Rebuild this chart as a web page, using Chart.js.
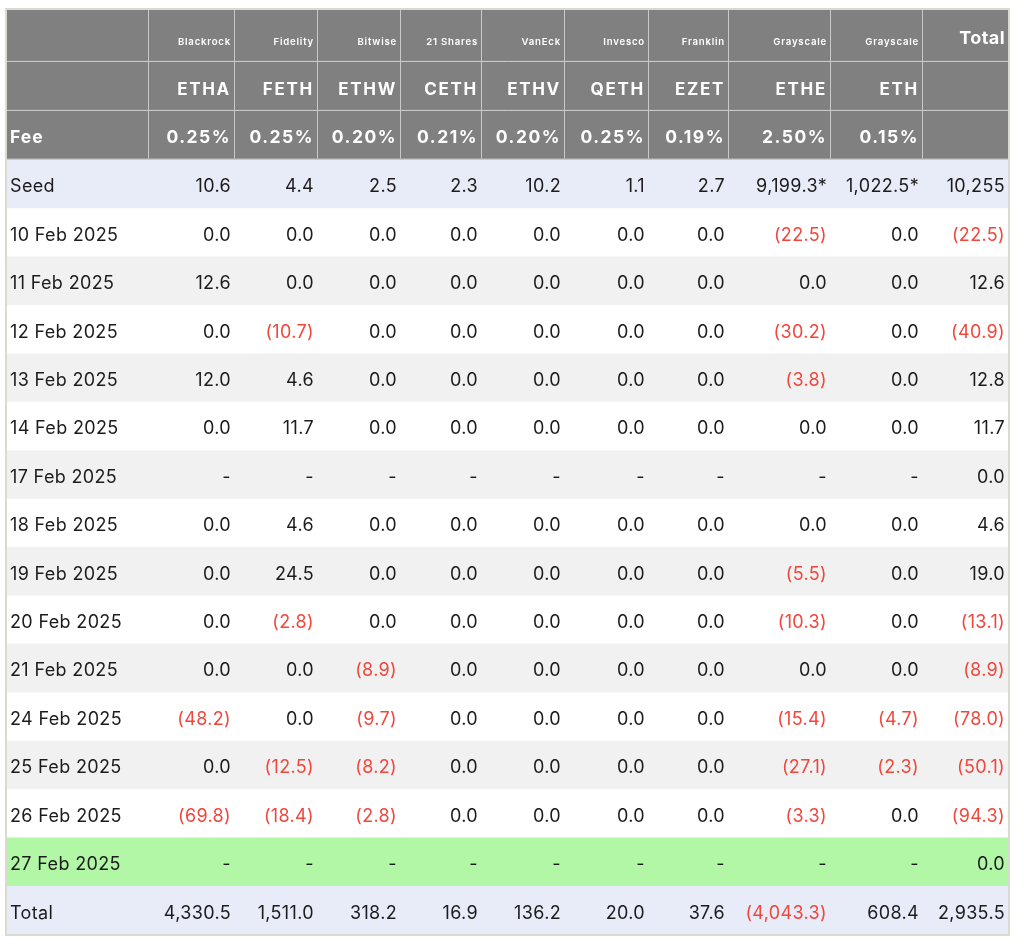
<!DOCTYPE html>
<html>
<head>
<meta charset="utf-8">
<script src="https://cdn.jsdelivr.net/npm/chart.js@4.4.1/dist/chart.umd.min.js"></script>
<style>
    html, body { margin: 0; padding: 0; background: #fff; }
    #flowTable { display: block; }
</style>
</head>
<body>
<canvas id="flowTable" width="1024" height="947"></canvas>
<script>
const issuers = ["Blackrock", "Fidelity", "Bitwise", "21 Shares", "VanEck", "Invesco", "Franklin", "Grayscale", "Grayscale"];
const tickers = ["ETHA", "FETH", "ETHW", "CETH", "ETHV", "QETH", "EZET", "ETHE", "ETH"];
const fees = ["0.25%", "0.25%", "0.20%", "0.21%", "0.20%", "0.25%", "0.19%", "2.50%", "0.15%"];

const seed = [10.6, 4.4, 2.5, 2.3, 10.2, 1.1, 2.7, 9199.3, 1022.5];
const seedStar = [false, false, false, false, false, false, false, true, true];
const seedTotal = 10255;

const dates = ["10 Feb 2025", "11 Feb 2025", "12 Feb 2025", "13 Feb 2025", "14 Feb 2025",
    "17 Feb 2025", "18 Feb 2025", "19 Feb 2025", "20 Feb 2025", "21 Feb 2025",
    "24 Feb 2025", "25 Feb 2025", "26 Feb 2025", "27 Feb 2025"];

// null = no data ("-")
const flows = [
    [0.0, 0.0, 0.0, 0.0, 0.0, 0.0, 0.0, -22.5, 0.0],
    [12.6, 0.0, 0.0, 0.0, 0.0, 0.0, 0.0, 0.0, 0.0],
    [0.0, -10.7, 0.0, 0.0, 0.0, 0.0, 0.0, -30.2, 0.0],
    [12.0, 4.6, 0.0, 0.0, 0.0, 0.0, 0.0, -3.8, 0.0],
    [0.0, 11.7, 0.0, 0.0, 0.0, 0.0, 0.0, 0.0, 0.0],
    [null, null, null, null, null, null, null, null, null],
    [0.0, 4.6, 0.0, 0.0, 0.0, 0.0, 0.0, 0.0, 0.0],
    [0.0, 24.5, 0.0, 0.0, 0.0, 0.0, 0.0, -5.5, 0.0],
    [0.0, -2.8, 0.0, 0.0, 0.0, 0.0, 0.0, -10.3, 0.0],
    [0.0, 0.0, -8.9, 0.0, 0.0, 0.0, 0.0, 0.0, 0.0],
    [-48.2, 0.0, -9.7, 0.0, 0.0, 0.0, 0.0, -15.4, -4.7],
    [0.0, -12.5, -8.2, 0.0, 0.0, 0.0, 0.0, -27.1, -2.3],
    [-69.8, -18.4, -2.8, 0.0, 0.0, 0.0, 0.0, -3.3, 0.0],
    [null, null, null, null, null, null, null, null, null],
];
const dayTotals = [-22.5, 12.6, -40.9, 12.8, 11.7, 0.0, 4.6, 19.0, -13.1, -8.9, -78.0, -50.1, -94.3, 0.0];

const fundTotals = [4330.5, 1511.0, 318.2, 16.9, 136.2, 20.0, 37.6, -4043.3, 608.4];
const grandTotal = 2935.5;

// ---- layout ----
// column right edges, in table units (xCols scale)
const colEdges = [0, 141, 227, 310, 393, 474, 557, 641, 721, 823, 915, 1001];
const FONT = "Inter, 'Liberation Sans', Arial, sans-serif";
const HEADER_ROWS = 3;

const rowLabels = ["issuer", "ticker", "Fee", "Seed"].concat(dates, ["Total"]);
// row heights in table units (y scale), header rows are a bit taller
const rowHeights = rowLabels.map((lab, i) => i == 0 ? 50.5 : i < 3 ? 49 : i == 3 ? 49.3 : 48.4);
const rowStarts = rowHeights.map((h, i) => rowHeights.slice(0, i).reduce((a, b) => a + b, 0));
const tableHeight = rowHeights.reduce((a, b) => a + b, 0);

const rowColors = rowLabels.map((lab, i) => {
    if (i < HEADER_ROWS) return "#808080";
    if (lab == "Seed" || lab == "Total") return "#e8ebf8";
    if (lab == "27 Feb 2025") return "#b2f7a6";
    return (i - 4) % 2 == 0 ? "#ffffff" : "#f1f1f1";
});

function fmt(v, dec) {
    if (v === null) return "-";
    let s = Math.abs(v).toLocaleString("en-US", { minimumFractionDigits: dec, maximumFractionDigits: dec });
    return v < 0 ? "(" + s + ")" : s;
}

const cellPlugin = {
    id: "cellPlugin",
    afterDatasetsDraw(chart) {
        const { ctx, chartArea, scales: { xCols, y } } = chart;
        const rowTop = (r) => y.getPixelForValue(rowStarts[r]);
        const rowMid = (r) => y.getPixelForValue(rowStarts[r] + rowHeights[r] / 2);
        const colX = (c) => xCols.getPixelForValue(colEdges[c]);

        ctx.save();

        // header grid lines
        ctx.strokeStyle = "#c9c9c9";
        ctx.lineWidth = 1;
        ctx.beginPath();
        for (let r = 1; r <= HEADER_ROWS; r++) {
            let yy = Math.round(rowTop(r)) + 0.5;
            ctx.moveTo(chartArea.left, yy);
            ctx.lineTo(chartArea.right, yy);
        }
        for (let c = 1; c < colEdges.length - 1; c++) {
            let xx = Math.round(colX(c)) + 0.5;
            ctx.moveTo(xx, rowTop(0));
            ctx.lineTo(xx, rowTop(HEADER_ROWS));
        }
        ctx.stroke();

        // outer border
        ctx.strokeStyle = "#dcd9cf";
        ctx.lineWidth = 2;
        ctx.strokeRect(chartArea.left - 1, chartArea.top - 1, chartArea.right - chartArea.left + 2, chartArea.bottom - chartArea.top + 2);

        function cell(str, col, row, opts) {
            ctx.font = opts.font;
            ctx.fillStyle = opts.color || "#1c1c1c";
            ctx.letterSpacing = opts.spacing || "0px";
            ctx.textBaseline = "middle";
            let yy = rowMid(row) + (opts.dy || 0);
            if (col == 0) {
                ctx.textAlign = "left";
                ctx.fillText(str, colX(0) + 3, yy);
            } else {
                ctx.textAlign = "right";
                ctx.fillText(str, colX(col + 1) - 3, yy);
            }
        }
        const red = "#f0473d";
        const dark = "#1c1c1c";
        const body = (color) => ({ font: "400 18px " + FONT, dy: 3.3, spacing: "0.35px", color: color });

        // header rows
        issuers.forEach((s, i) => cell(s, i + 1, 0, { font: "600 9.6px " + FONT, color: "#fff", dy: 7, spacing: "0.8px" }));
        cell("Total", 10, 0, { font: "700 18px " + FONT, color: "#fff", dy: 3, spacing: "0.4px" });
        tickers.forEach((s, i) => cell(s, i + 1, 1, { font: "700 17px " + FONT, color: "#fff", dy: 4.5, spacing: "1.7px" }));
        cell("Fee", 0, 2, { font: "700 17.5px " + FONT, color: "#fff", dy: 3.5, spacing: "1px" });
        fees.forEach((s, i) => cell(s, i + 1, 2, { font: "700 17.5px " + FONT, color: "#fff", dy: 3.5, spacing: "1.5px" }));

        // seed row
        let r = HEADER_ROWS;
        cell("Seed", 0, r, body(dark));
        seed.forEach((v, i) => cell(fmt(v, 1) + (seedStar[i] ? "*" : ""), i + 1, r, body(dark)));
        cell(fmt(seedTotal, 0), 10, r, body(dark));

        // daily rows
        dates.forEach((d, k) => {
            let row = HEADER_ROWS + 1 + k;
            cell(d, 0, row, body(dark));
            flows[k].forEach((v, i) => cell(fmt(v, 1), i + 1, row, body(v < 0 ? red : dark)));
            cell(fmt(dayTotals[k], 1), 10, row, body(dayTotals[k] < 0 ? red : dark));
        });

        // total row
        r = rowLabels.length - 1;
        cell("Total", 0, r, body(dark));
        fundTotals.forEach((v, i) => cell(fmt(v, 1), i + 1, r, body(v < 0 ? red : dark)));
        cell(fmt(grandTotal, 1), 10, r, body(grandTotal < 0 ? red : dark));

        ctx.restore();
    }
};

let ctx = document.getElementById("flowTable").getContext("2d");
let tableChart = new Chart(ctx, {
    type: "bar",
    data: {
        labels: ["table"],
        // one stacked band per table row
        datasets: rowLabels.map((lab, i) => ({
            label: lab,
            data: [rowHeights[i]],
            backgroundColor: rowColors[i],
            borderWidth: 0,
            barPercentage: 1,
            categoryPercentage: 1,
        })),
    },
    options: {
        responsive: false,
        animation: false,
        layout: {
            padding: { left: 7, top: 10, right: 16, bottom: 13 },
        },
        scales: {
            x: { type: "category", stacked: true, display: false },
            xCols: { type: "linear", position: "bottom", offset: false, min: 0, max: colEdges[colEdges.length - 1], display: false },
            y: { type: "linear", stacked: true, reverse: true, min: 0, max: tableHeight, display: false },
        },
        plugins: {
            legend: { display: false },
            tooltip: { enabled: false },
        },
    },
    plugins: [cellPlugin],
});
</script>
</body>
</html>
